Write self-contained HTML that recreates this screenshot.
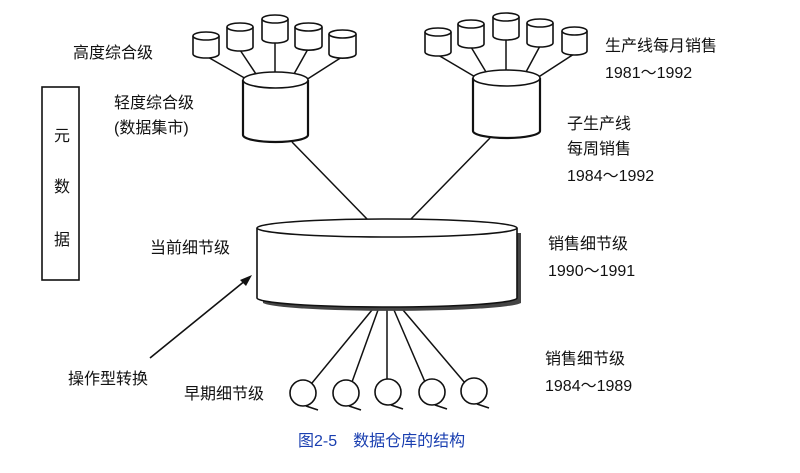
<!DOCTYPE html>
<html><head><meta charset="utf-8"><style>
body{margin:0;background:#fff}
svg text{font-family:"Liberation Sans","Noto Sans CJK SC",sans-serif;font-size:16px;fill:#111}
</style></head><body>
<svg width="800" height="468" viewBox="0 0 800 468" xmlns="http://www.w3.org/2000/svg">
<g stroke="#111" stroke-width="1.5" fill="#fff">
<line x1="206" y1="56" x2="248" y2="80"/><line x1="240" y1="50" x2="256" y2="74"/><line x1="275" y1="42" x2="275" y2="72"/><line x1="308" y1="49" x2="294" y2="74"/><line x1="342" y1="57" x2="306" y2="80"/>
<line x1="438" y1="55" x2="477" y2="78"/><line x1="471" y1="47" x2="486" y2="72"/><line x1="506" y1="39" x2="506" y2="70"/><line x1="540" y1="46" x2="526" y2="72"/><line x1="574" y1="54" x2="537" y2="78"/>
<line x1="292" y1="142" x2="368" y2="220"/><line x1="490" y1="138" x2="410" y2="220"/>
<line x1="312" y1="383" x2="372" y2="310"/><line x1="352" y1="382" x2="378" y2="310"/><line x1="387" y1="381" x2="387" y2="310"/><line x1="425" y1="382" x2="394" y2="310"/><line x1="465" y1="383" x2="403" y2="310"/>
</g>
<g stroke="#111" stroke-width="1.6" fill="#fff">
<path d="M193 36 v18 a13 4 0 0 0 26 0 v-18"/><ellipse cx="206" cy="36" rx="13" ry="4"/>
<path d="M227 27 v20 a13 4 0 0 0 26 0 v-20"/><ellipse cx="240" cy="27" rx="13" ry="4"/>
<path d="M262 19 v20 a13 4 0 0 0 26 0 v-20"/><ellipse cx="275" cy="19" rx="13" ry="4"/>
<path d="M295 27 v19 a13 4 0 0 0 27 0 v-19"/><ellipse cx="308.5" cy="27" rx="13.5" ry="4"/>
<path d="M329 34 v20 a13 4 0 0 0 27 0 v-20"/><ellipse cx="342.5" cy="34" rx="13.5" ry="4"/>
<path d="M425 32 v20 a13 4 0 0 0 26 0 v-20"/><ellipse cx="438" cy="32" rx="13" ry="4"/>
<path d="M458 24 v20 a13 4 0 0 0 26 0 v-20"/><ellipse cx="471" cy="24" rx="13" ry="4"/>
<path d="M493 17 v19 a13 4 0 0 0 26 0 v-19"/><ellipse cx="506" cy="17" rx="13" ry="4"/>
<path d="M527 23 v20 a13 4 0 0 0 26 0 v-20"/><ellipse cx="540" cy="23" rx="13" ry="4"/>
<path d="M562 31 v20 a12.5 4 0 0 0 25 0 v-20"/><ellipse cx="574.5" cy="31" rx="12.5" ry="4"/>
<path d="M243 80 v55 a32.5 7 0 0 0 65 0 v-55" stroke-width="2.2"/><ellipse cx="275.5" cy="80" rx="32.5" ry="8"/>
<path d="M473 78 v53 a33.5 7 0 0 0 67 0 v-53" stroke-width="2.2"/><ellipse cx="506.5" cy="78" rx="33.5" ry="8"/>
<path d="M263 233 v70 a130 9 0 0 0 258 0 v-70" fill="#444" stroke="none"/>
<path d="M257 228 v70 a130 9 0 0 0 260 0 v-70"/><ellipse cx="387" cy="228" rx="130" ry="9"/>
<circle cx="303" cy="393" r="13"/><line x1="306" y1="406" x2="318" y2="410"/>
<circle cx="346" cy="393" r="13"/><line x1="349" y1="406" x2="361" y2="410"/>
<circle cx="388" cy="392" r="13"/><line x1="391" y1="405" x2="403" y2="409"/>
<circle cx="432" cy="392" r="13"/><line x1="435" y1="405" x2="447" y2="409"/>
<circle cx="474" cy="391" r="13"/><line x1="477" y1="404" x2="489" y2="408"/>
<rect x="42" y="87" width="37" height="193"/>
<line x1="150" y1="358" x2="246" y2="280"/>
</g>
<polygon points="252,275 240,280 246,286" fill="#111"/>
<text x="73" y="58">高度综合级</text>
<text x="114" y="108">轻度综合级</text>
<text x="114" y="133">(数据集市)</text>
<text x="54" y="141">元</text><text x="54" y="192">数</text><text x="54" y="245">据</text>
<text x="150" y="253">当前细节级</text>
<text x="68" y="384">操作型转换</text>
<text x="184" y="399">早期细节级</text>
<text x="605" y="51">生产线每月销售</text>
<text x="605" y="78">1981～1992</text>
<text x="567" y="129">子生产线</text>
<text x="567" y="154">每周销售</text>
<text x="567" y="181">1984～1992</text>
<text x="548" y="249">销售细节级</text>
<text x="548" y="276">1990～1991</text>
<text x="545" y="364">销售细节级</text>
<text x="545" y="391">1984～1989</text>
<text x="298" y="446" style="fill:#1a3fb0">图2-5　数据仓库的结构</text>
</svg>
</body></html>
